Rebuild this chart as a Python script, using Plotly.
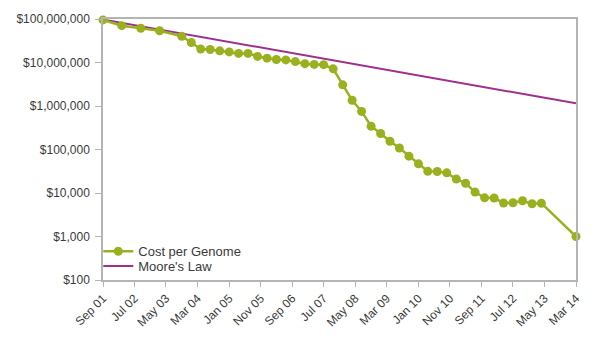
import plotly.graph_objects as go

dates = ["2001-09-01","2002-03-01","2002-09-01","2003-03-01","2003-10-01",
         "2004-01-01","2004-04-01","2004-07-01","2004-10-01",
         "2005-01-01","2005-04-01","2005-07-01","2005-10-01",
         "2006-01-01","2006-04-01","2006-07-01","2006-10-01",
         "2007-01-01","2007-04-01","2007-07-01","2007-10-01",
         "2008-01-01","2008-04-01","2008-07-01","2008-10-01",
         "2009-01-01","2009-04-01","2009-07-01","2009-10-01",
         "2010-01-01","2010-04-01","2010-07-01","2010-10-01",
         "2011-01-01","2011-04-01","2011-07-01","2011-10-01",
         "2012-01-01","2012-04-01","2012-07-01","2012-10-01",
         "2013-01-01","2013-04-01","2014-03-01"]
cost = [95263072, 70175437, 61448422, 53751684, 40153209,
        28780376, 20442576, 19934346, 18519312,
        17534970, 16159699, 16180224, 13801124,
        12585659, 11732535, 11455315, 10474556,
        9408739, 9047003, 8927342, 7147571,
        3063820, 1352982, 752080, 342502,
        232735, 154714, 108065, 70333,
        46774, 31512, 31125, 29092,
        20963, 16712, 10497, 7743,
        7666, 5901, 5985, 6618,
        5671, 5826, 1000]

moore_dates = ["2001-09-01", "2014-03-01"]
moore_vals = [97000000, 1150000]

y_tickvals = [100, 1000, 10000, 100000, 1000000, 10000000, 100000000]
y_ticktext = ["$100", "$1,000", "$10,000", "$100,000", "$1,000,000", "$10,000,000", "$100,000,000"]

green = "#9bb01f"
purple = "#9e2f8f"
axis_col = "#b4b4b4"
font_col = "#3a3a3a"

fig = go.Figure()
fig.add_trace(go.Scatter(x=moore_dates, y=moore_vals, mode="lines", name="Moore's Law",
                         line=dict(color=purple, width=2), cliponaxis=False,
                         legend="legend2"))
fig.add_trace(go.Scatter(x=dates, y=cost, mode="lines+markers", name="Cost per Genome",
                         line=dict(color=green, width=2.5),
                         marker=dict(color=green, size=9), cliponaxis=False,
                         legend="legend"))

leg_common = dict(xanchor="left", yanchor="middle", bgcolor="rgba(0,0,0,0)",
                  font=dict(size=13, color=font_col), itemwidth=30,
                  borderwidth=0)

fig.update_layout(
    width=600, height=341,
    margin=dict(l=103, r=24, t=18, b=60),
    paper_bgcolor="white", plot_bgcolor="white",
    font=dict(family="Liberation Sans, Arial, sans-serif", size=12, color=font_col),
    showlegend=True,
    legend=dict(x=-0.01, y=0.110, **leg_common),
    legend2=dict(x=-0.01, y=0.053, **leg_common),
)
fig.update_xaxes(type="date", range=["2001-09-01", "2014-03-01"],
                 tick0="2001-09-01", dtick="M10", tickformat="%b %y",
                 tickangle=-45, ticks="outside", ticklen=5, tickcolor=axis_col,
                 showline=True, linecolor=axis_col, linewidth=1.5, mirror=True,
                 showgrid=False, zeroline=False,
                 tickfont=dict(size=12, color=font_col))
fig.update_yaxes(type="log", range=[2, 8], tickvals=y_tickvals, ticktext=y_ticktext,
                 ticks="outside", ticklen=6, tickcolor=axis_col,
                 ticklabelstandoff=3,
                 showline=True, linecolor=axis_col, linewidth=1.5, mirror=True,
                 showgrid=False, zeroline=False,
                 tickfont=dict(size=12, color=font_col))

fig.write_html("out.html")
